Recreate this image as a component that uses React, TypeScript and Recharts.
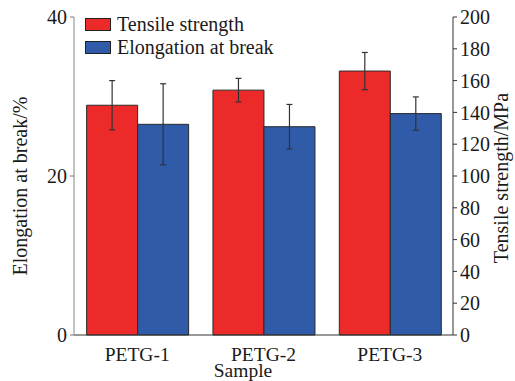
import { Bar, BarChart, ErrorBar, Label, Legend, XAxis, YAxis } from "recharts";

// Values.
const SAMPLES = ["PETG-1", "PETG-2", "PETG-3"];
const TENSILE_MPA = [144.5, 154.0, 166.0];
const TENSILE_ERR = [15.5, 7.4, 11.7];
const ELONGATION_PCT = [26.5, 26.2, 27.85];
const ELONGATION_ERR = [5.1, 2.8, 2.1];

const LEFT_TICKS = [0, 20, 40];
const RIGHT_TICKS = [0, 20, 40, 60, 80, 100, 120, 140, 160, 180, 200];

const SERIES = [
  { key: "tensile", name: "Tensile strength", color: "#ED2A2A" },
  { key: "elongation", name: "Elongation at break", color: "#2F5BA8" },
];

const FONT = "Liberation Serif";
const INK = "#1a1a1a";

const rows = SAMPLES.map((sample, i) => ({
  sample,
  tensile: TENSILE_MPA[i],
  tensileErr: TENSILE_ERR[i],
  elongation: ELONGATION_PCT[i],
  elongationErr: ELONGATION_ERR[i],
}));

function LegendBox() {
  return (
    <div style={{ fontFamily: FONT, fontSize: 20, color: INK }}>
      {SERIES.map((s) => (
        <div key={s.key} style={{ display: "flex", alignItems: "center", height: 23 }}>
          <span
            style={{
              display: "inline-block",
              width: 24,
              height: 11,
              background: s.color,
              border: "1px solid #222",
              marginRight: 6,
            }}
          />
          <span style={{ lineHeight: "23px" }}>{s.name}</span>
        </div>
      ))}
    </div>
  );
}

const tickStyle = { fontFamily: FONT, fontSize: 20, fill: INK };
const xTickStyle = { fontFamily: FONT, fontSize: 19.5, fill: INK };

// rotated or free-standing axis title
function Title({ x, y, text, rotate, size = 20 }: { x: number; y: number; text: string; rotate?: boolean; size?: number }) {
  return (
    <text
      x={x}
      y={y}
      transform={rotate ? `rotate(-90, ${x}, ${y})` : undefined}
      textAnchor="middle"
      fontFamily={FONT}
      fontSize={size}
      fill={INK}
    >
      {text}
    </text>
  );
}

export default function App() {
  return (
    <div
      style={{
        position: "absolute",
        left: 0,
        top: 0,
        width: 515,
        height: 381,
        background: "#fff",
        fontFamily: FONT,
      }}
    >
      <BarChart
        width={515}
        height={381}
        data={rows}
        margin={{ top: 17, right: 0, bottom: 0, left: 0 }}
        barCategoryGap="10%"
        barGap={0}
        style={{ fontFamily: FONT }}
      >
        <XAxis
          dataKey="sample"
          height={46}
          tick={xTickStyle}
          tickLine={false}
          axisLine={{ stroke: "#333" }}
          tickMargin={6}
        >
          <Label content={() => <Title x={243} y={377} text="Sample" size={19.5} />} />
        </XAxis>
        <YAxis
          yAxisId="left"
          orientation="left"
          width={74}
          domain={[0, 40]}
          ticks={LEFT_TICKS}
          tick={tickStyle}
          tickSize={4}
          tickMargin={3}
          tickLine={{ stroke: "#777" }}
          axisLine={{ stroke: "#888" }}
        >
          <Label content={() => <Title x={27} y={186} text="Elongation at break/%" rotate />} />
        </YAxis>
        <YAxis
          yAxisId="right"
          orientation="right"
          width={62}
          domain={[0, 200]}
          ticks={RIGHT_TICKS}
          tick={tickStyle}
          tickSize={4}
          tickMargin={3}
          tickLine={{ stroke: "#333" }}
          axisLine={{ stroke: "#333" }}
        >
          <Label content={() => <Title x={508} y={178} text="Tensile strength/MPa" rotate />} />
        </YAxis>
        <Legend
          layout="vertical"
          align="center"
          verticalAlign="middle"
          wrapperStyle={{ top: 13, left: 85, width: "auto" }}
          content={() => <LegendBox />}
        />
        <Bar
          yAxisId="right"
          dataKey="tensile"
          name={SERIES[0].name}
          fill={SERIES[0].color}
          stroke="#2a2a2a"
          strokeWidth={1}
          isAnimationActive={false}
        >
          <ErrorBar dataKey="tensileErr" direction="y" width={3} stroke="#333" strokeWidth={1.2} />
        </Bar>
        <Bar
          yAxisId="left"
          dataKey="elongation"
          name={SERIES[1].name}
          fill={SERIES[1].color}
          stroke="#2a2a2a"
          strokeWidth={1}
          isAnimationActive={false}
        >
          <ErrorBar dataKey="elongationErr" direction="y" width={3} stroke="#333" strokeWidth={1.2} />
        </Bar>
      </BarChart>
    </div>
  );
}
